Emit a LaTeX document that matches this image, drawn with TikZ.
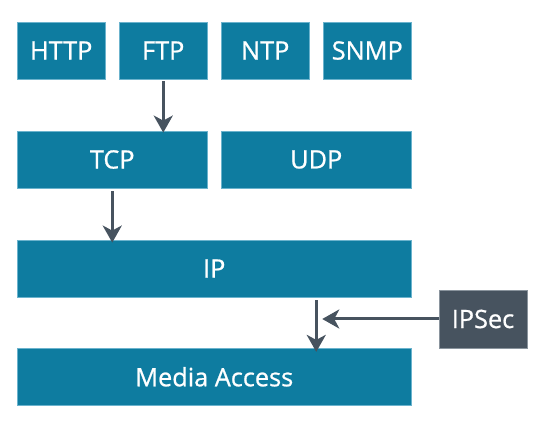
\documentclass[tikz,border=0pt]{standalone}
\usepackage{fontspec}
\setmainfont{Open Sans}
\newfontface\boxfont{Open Sans}[FakeBold=0.8]
\usetikzlibrary{arrows.meta,calc}
\definecolor{boxteal}{HTML}{0E7CA0}
\definecolor{boxedge}{HTML}{6BB3CD}
\definecolor{slate}{HTML}{47535F}
\definecolor{slateedge}{HTML}{8A949D}
\tikzset{
  box/.style={fill=boxteal, draw=boxedge, line width=0.8pt, text=white,
    inner sep=0pt, minimum height=57pt,
    font=\boxfont\fontsize{25.3}{29}\selectfont},
  sbox/.style={box, minimum width=87.5pt},
  darkbox/.style={box, fill=slate, draw=slateedge, minimum width=88pt, minimum height=58pt},
  arr/.style={draw=slate, line width=3pt,
    -{Stealth[length=17pt,width=19pt,inset=5pt]}},
}
\begin{document}
\begin{tikzpicture}[x=1pt,y=-1pt]
\useasboundingbox (0,0) rectangle (539,425);
\node[sbox] (http) at (61.25,50.5) {HTTP};
\node[sbox] (ftp)  at (163.25,50.5) {FTP};
\node[sbox] (ntp)  at (265.25,50.5) {NTP};
\node[sbox] (snmp) at (367.25,50.5) {SNMP};
\node[box, minimum width=189.5pt] (tcp) at (112.25,159.5) {TCP};
\node[box, minimum width=189.5pt] (udp) at (316.25,159.5) {UDP};
\node[box, minimum width=393.5pt] (ip) at (214.25,268.5) {IP};
\node[box, minimum width=393.5pt] (media) at (214.25,376.8) {Media Access};
\node[darkbox] (ipsec) at (483,319) {IPSec};
\draw[arr, shorten <=2pt, shorten >=-2pt] (ftp.south) -- (ftp.south |- tcp.north);
\draw[arr, shorten <=3pt, shorten >=-3pt] (tcp.south) -- (tcp.south |- ip.north);
\coordinate (jtop) at ($(ip.south)+(102,3)$);
\coordinate (jbot) at (jtop |- media.north);
\draw[arr, shorten >=-4pt] (jtop) -- (jbot);
\coordinate (jmid) at ($(jtop |- ipsec.west)+(6,0)$);
\draw[arr] (ipsec.west) -- (jmid);
\end{tikzpicture}
\end{document}
